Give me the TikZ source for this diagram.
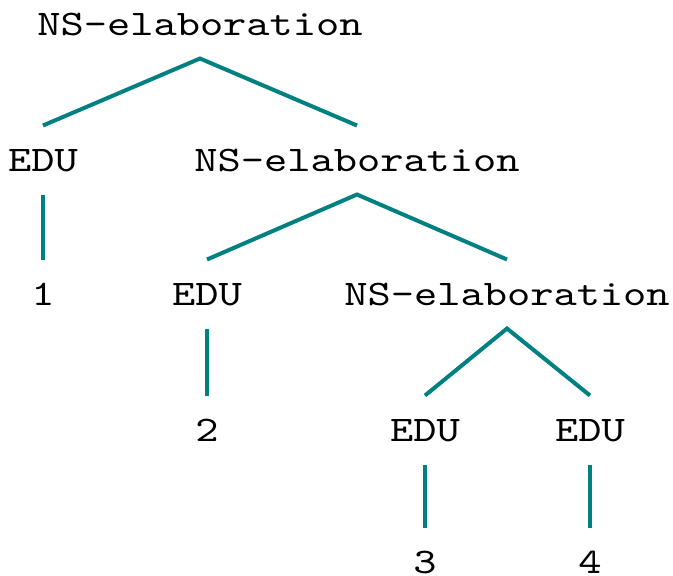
\documentclass[tikz,border=0pt]{standalone}
\usepackage{fontspec}
\setmonofont[FakeStretch=1.23]{lmmono10-regular.otf}
\usepackage{xcolor}
\usetikzlibrary{positioning}
\definecolor{treeteal}{RGB}{0,128,128}

\begin{document}
\begin{tikzpicture}[
    x=0.5pt, y=-0.5pt,
    term/.style={font=\ttfamily\fontsize{18}{22}\selectfont, inner xsep=0pt, inner ysep=0pt, text height=11pt, text depth=0pt, outer ysep=11.75pt, anchor=base},
    branch/.style={draw=treeteal, line width=2pt}
]
\useasboundingbox (0,0) rectangle (673,575);

\node[term] (root) at (200,35) {NS-elaboration};
\node[term] (edua) at (43,171) {EDU};
\node[term] (nsb) at (357,171) {NS-elaboration};
\node[term] (one) at (43,305) {1};
\node[term] (edub) at (207,305) {EDU};
\node[term] (nsc) at (507,305) {NS-elaboration};
\node[term] (two) at (207,441) {2};
\node[term] (educ) at (425,441) {EDU};
\node[term] (edud) at (590,441) {EDU};
\node[term] (three) at (425,573) {3};
\node[term] (four) at (590,573) {4};

\draw[branch] (edua.north) -- (root.south) -- (nsb.north);
\draw[branch] (edua.south) -- (one.north);
\draw[branch] (edub.north) -- (nsb.south) -- (nsc.north);
\draw[branch] (edub.south) -- (two.north);
\draw[branch] (educ.north) -- (nsc.south) -- (edud.north);
\draw[branch] (educ.south) -- (three.north);
\draw[branch] (edud.south) -- (four.north);
\end{tikzpicture}
\end{document}
